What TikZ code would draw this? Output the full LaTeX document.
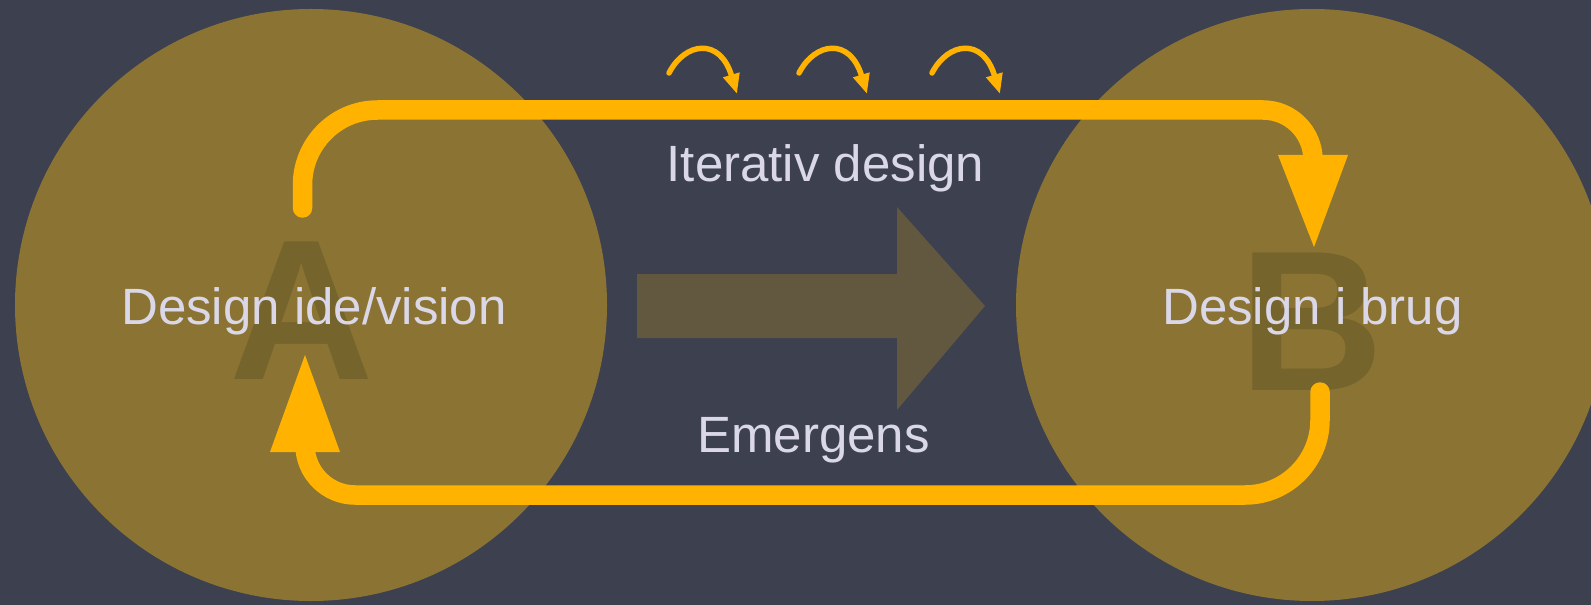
\documentclass[tikz,border=0pt]{standalone}
\usepackage{fontspec}
\setmainfont{Liberation Sans}
\usetikzlibrary{arrows.meta}
\definecolor{cbg}{HTML}{3C404F}
\definecolor{cdisc}{HTML}{8B7433}
\definecolor{cletter}{HTML}{76642D}
\definecolor{cbigarrow}{HTML}{625840}
\definecolor{cloop}{HTML}{FFB300}
\definecolor{clabel}{HTML}{DAD8E8}
\begin{document}
\begin{tikzpicture}[x=1bp,y=-1bp,
  discfill/.style={fill=cdisc},
  bigarrowfill/.style={fill=cbigarrow},
  loopline/.style={draw=cloop,line width=19.5bp,line cap=round},
  loophead/.style={fill=cloop},
  minorloop/.style={draw=cloop,line width=5.5bp,line cap=round,-{Triangle[length=20bp,width=16bp]}},
  lbl/.style={text=clabel,font=\fontsize{51bp}{60bp}\selectfont,inner sep=0pt,anchor=base},
  bigletter/.style={text=cletter,font=\fontsize{200bp}{200bp}\selectfont\bfseries,inner sep=0pt,anchor=base}]
\useasboundingbox (0,0) rectangle (1591,605);
\fill[cbg] (0,0) rectangle (1591,605);
% discs
\fill[discfill] (311,305) circle[radius=296bp];
\fill[discfill] (1312,305) circle[radius=296bp];
% big arrow
\fill[bigarrowfill] (637,274) -- (897,274) -- (897,207) -- (985,306) -- (897,410) -- (897,338) -- (637,338) -- cycle;
% letters
\node[bigletter] (letA) at (302,379) {A};
\node[bigletter] (letB) at (1312,390) {B};
% loops
\coordinate (topstart) at (302.5,208);
\coordinate (topend) at (1313,160);
\coordinate (botstart) at (1320,392);
\coordinate (botend) at (305,445);
\draw[loopline] (topstart) -- (302.5,185) .. controls (302.5,143.6) and (336.1,110) .. (377.5,110) -- (1263,110) .. controls (1290.6,110) and (1313,132.4) .. (topend);
\fill[loophead] (1278,155) -- (1348,155) -- (1314,247) -- cycle;
\draw[loopline] (botstart) -- (1320,420) .. controls (1320,461.4) and (1286.4,495) .. (1245,495) -- (355,495) .. controls (327.4,495) and (305,472.6) .. (botend);
\fill[loophead] (270,452) -- (340,452) -- (305,355) -- cycle;
% small iteration arcs
\draw[minorloop] (669,73) .. controls (685,42) and (720,37) .. (737,94);
\draw[minorloop] (799,73) .. controls (815,42) and (850,37) .. (867,94);
\draw[minorloop] (932,73) .. controls (948,42) and (983,37) .. (1000,94);
% labels
\node[lbl] (ideA) at (314,324) {Design ide/vision};
\node[lbl] (brugB) at (1312.5,324) {Design i brug};
\node[lbl] (iter) at (825.5,182) {Iterativ design};
\node[lbl] (emer) at (813.5,452) {Emergens};
\end{tikzpicture}
\end{document}
